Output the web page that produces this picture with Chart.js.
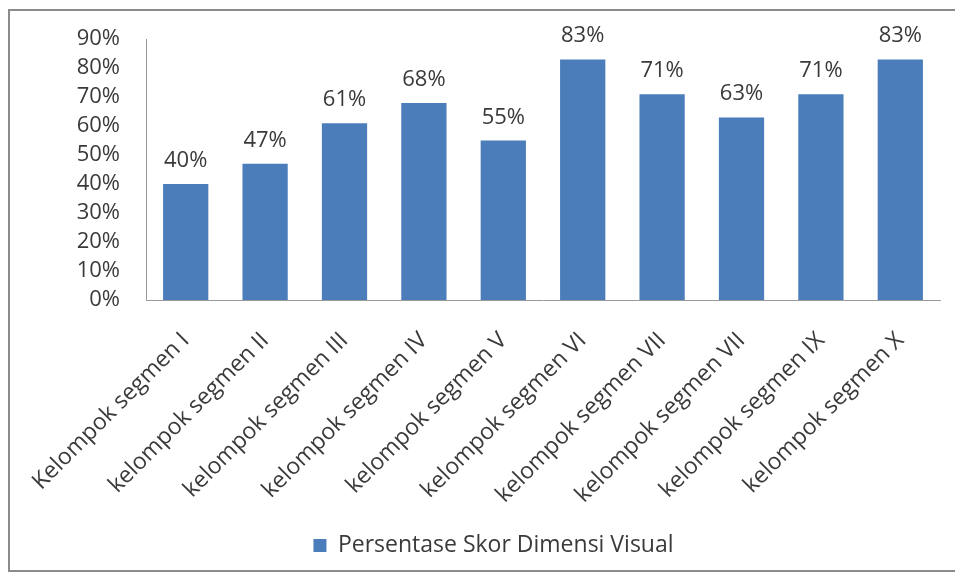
<!DOCTYPE html>
<html>
<head>
<meta charset="utf-8">
<script src="https://cdn.jsdelivr.net/npm/chart.js@4/dist/chart.umd.min.js"></script>
<style>
  html, body { margin: 0; padding: 0; background: #fff; }
  body { width: 955px; height: 577px; position: relative; overflow: hidden; }
  .frame { position: absolute; left: 8px; top: 9px; width: 1000px; height: 563px; border: 2px solid #8c8c8c; box-sizing: border-box; }
  .wrap { position: absolute; left: 10px; top: 0; width: 967px; height: 577px; }
</style>
</head>
<body>
<div class="frame"></div>
<div class="wrap"><canvas id="myChart"></canvas></div>
<script>
const labels = ['Kelompok segmen I', 'kelompok segmen II', 'kelompok segmen III', 'kelompok segmen IV', 'kelompok segmen V',
  'kelompok segmen VI', 'kelompok segmen VII', 'kelompok segmen VII', 'kelompok segmen IX', 'kelompok segmen X']
const skor = [40, 47, 61, 68, 55, 83, 71, 63, 71, 83]
const yTicks = [0, 10, 20, 30, 40, 50, 60, 70, 80, 90]
const seriesName = 'Persentase Skor Dimensi Visual'

const textColor = '#3a3a3a'
const fontFamily = "'Open Sans', sans-serif"

// labels above each bar
const barLabels = {
  id: 'barLabels',
  afterDatasetsDraw(chart) {
    const ctx = chart.ctx
    const meta = chart.getDatasetMeta(0)
    ctx.save()
    ctx.font = '22px ' + fontFamily
    ctx.fillStyle = textColor
    ctx.textAlign = 'center'
    ctx.textBaseline = 'alphabetic'
    meta.data.forEach((bar, i) => {
      ctx.fillText(skor[i] + '%', bar.x, bar.y - 17)
    })
    ctx.restore()
  }
}

new Chart(document.getElementById('myChart'), {
  type: 'bar',
  data: {
    labels: labels,
    datasets: [{
      label: seriesName,
      data: skor,
      backgroundColor: '#4a7dba',
      barPercentage: 0.57,
      categoryPercentage: 1
    }]
  },
  options: {
    responsive: true,
    maintainAspectRatio: false,
    animation: false,
    layout: { padding: { top: 35, bottom: 10 } },
    plugins: {
      tooltip: { enabled: false },
      legend: {
        position: 'bottom',
        labels: {
          boxWidth: 13,
          boxHeight: 13,
          color: textColor,
          font: { family: fontFamily, size: 23 },
          padding: 10
        }
      }
    },
    scales: {
      x: {
        afterFit(scale) {
          scale.height = scale.chart.height - 10 - scale.chart.legend.height - 300
          scale.paddingLeft = 0
          scale.paddingRight = 37
        },
        grid: { display: false, drawTicks: false },
        border: { color: '#9a9a9a', width: 1 },
        ticks: {
          autoSkip: false,
          minRotation: 45,
          maxRotation: 45,
          padding: 27,
          color: textColor,
          font: { family: fontFamily, size: 23 }
        }
      },
      y: {
        min: 0,
        max: 90,
        afterBuildTicks(scale) {
          scale.ticks = yTicks.map(v => ({ value: v }))
        },
        afterFit(scale) {
          scale.width = 136
        },
        grid: { display: false, drawTicks: false },
        border: { color: '#9a9a9a', width: 1 },
        ticks: {
          autoSkip: false,
          padding: 26,
          color: textColor,
          font: { family: fontFamily, size: 22 },
          callback: v => v + '%'
        }
      }
    }
  },
  plugins: [barLabels]
})
</script>
</body>
</html>
